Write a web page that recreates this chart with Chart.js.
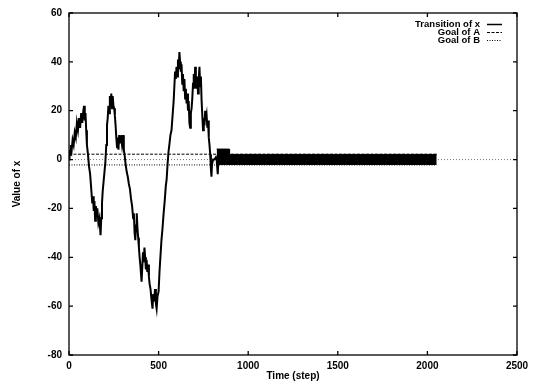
<!DOCTYPE html>
<html>
<head>
<meta charset="utf-8">
<script src="https://cdn.jsdelivr.net/npm/chart.js@4.4.0/dist/chart.umd.min.js"></script>
<style>
  body { margin: 0; background: #fff; }
  #wrap { width: 538px; height: 384px; }
</style>
</head>
<body>
<div id="wrap"><canvas id="chart" width="538" height="384"></canvas></div>
<script>
// transition of x (step, value)
const steps = [0, 3, 6, 10, 15, 20, 26, 32, 38, 44, 50, 56, 62, 68, 74, 80, 84, 88, 92, 96,
  100, 106, 112, 118, 124, 130, 134, 138, 142, 146, 150, 154, 158, 164, 170, 176, 180, 184, 188, 193,
  198, 203, 208, 212, 216, 220, 224, 228, 232, 236, 240, 244, 248, 252, 256, 260, 264, 268, 272, 276,
  280, 285, 290, 296, 302, 306, 310, 316, 322, 328, 334, 340, 346, 352, 358, 362, 366, 370, 374, 378,
  382, 386, 390, 394, 398, 402, 405, 409, 413, 417, 421, 425, 429, 433, 437, 441, 446, 450, 455, 460,
  466, 470, 475, 480, 485, 489, 494, 500, 505, 510, 516, 522, 528, 534, 540, 545, 550, 555, 560, 566,
  572, 578, 584, 588, 592, 596, 600, 604, 608, 612, 616, 620, 624, 628, 632, 636, 640, 644, 648, 652,
  656, 660, 664, 668, 672, 676, 680, 684, 688, 692, 696, 700, 704, 708, 712, 716, 720, 724, 728, 732,
  736, 740, 744, 748, 752, 756, 760, 764, 768, 772, 776, 780, 784, 788, 792, 795, 798, 804, 812, 820,
  824, 830, 834];
const xValues = [0, 4, 2, 6, 4, 8, 6, 11, 9, 15, 12, 17, 13, 19, 15, 20, 22, 16, 19, 12,
  6, 2, -3, -6, -12, -18, -15, -21, -17, -25, -19, -23, -20, -26, -24, -31, -24, -18, -13, -9,
  -5, -1, 6, 14, 17, 22, 19, 26, 22, 27, 21, 26, 22, 21, 18, 14, 9, 5, 9, 4,
  10, 7, 10, 6, 10, 4, 2, -2, -5, -7, -10, -12, -16, -19, -24, -22, -30, -33, -27, -22,
  -28, -32, -36, -40, -43, -47, -50, -44, -38, -42, -36, -40, -45, -41, -46, -43, -48, -51, -53, -57,
  -61, -55, -58, -53, -59, -61, -56, -54, -46, -40, -33, -28, -22, -17, -11, -8, -2, 3, 6, 10,
  12, 18, 24, 30, 36, 33, 38, 34, 41, 37, 44, 40, 36, 39, 31, 35, 28, 33, 25, 29,
  23, 27, 20, 24, 15, 13, 19, 21, 25, 31, 35, 29, 38, 32, 29, 34, 27, 33, 38, 30,
  34, 24, 18, 12, 17, 14, 20, 16, 18, 13, 16, 9, 6, 2, -4, -7, -2, 0, 0, 1,
  0, -6, 0];

// the dense oscillation after step ~824, upper and lower edge of the black band
const bandSteps = [824, 895, 896, 2052];
const bandTop = [4.3, 4.3, 2.1, 2.1];
const bandBottom = -2.2;

// goals, drawn over the run
const goalSteps = [0, 2052];
const goalA = [2.2, 2.2];
const goalB = [-2.2, -2.2];

// dotted zero axis
const zeroSteps = [0, 2500];
const zeroValues = [0, 0];

const xTicks = [0, 500, 1000, 1500, 2000, 2500];
const yTicks = [-80, -60, -40, -20, 0, 20, 40, 60];

function pts(xs, ys) {
    return xs.map((x, i) => ({ x: x, y: ys[i] }));
}

const FONT = '"Liberation Sans", Arial, sans-serif';

// frame with inward ticks on all four sides, gnuplot style
const framePlugin = {
    id: 'frame',
    afterDraw(chart) {
        const ctx = chart.ctx;
        const a = chart.chartArea;
        const xs = chart.scales.x, ys = chart.scales.y;
        ctx.save();
        ctx.strokeStyle = '#000';
        ctx.lineWidth = 1.3;
        ctx.strokeRect(a.left, a.top, a.right - a.left, a.bottom - a.top);
        ctx.beginPath();
        xTicks.forEach(v => {
            const px = xs.getPixelForValue(v);
            ctx.moveTo(px, a.bottom); ctx.lineTo(px, a.bottom - 4);
            ctx.moveTo(px, a.top); ctx.lineTo(px, a.top + 4);
        });
        yTicks.forEach(v => {
            const py = ys.getPixelForValue(v);
            ctx.moveTo(a.left, py); ctx.lineTo(a.left + 4, py);
            ctx.moveTo(a.right, py); ctx.lineTo(a.right - 4, py);
        });
        ctx.stroke();

        // legend, text right aligned then the line sample
        const rows = [
            ['Transition of x', [], 1.5],
            ['Goal of A', [3, 1.5], 1],
            ['Goal of B', [1, 1.5], 1]
        ];
        ctx.font = 'bold 9.5px ' + FONT;
        ctx.fillStyle = '#000';
        ctx.textAlign = 'right';
        ctx.textBaseline = 'middle';
        rows.forEach((r, i) => {
            const y = 24 + i * 8;
            ctx.fillText(r[0], 480, y);
            ctx.beginPath();
            ctx.setLineDash(r[1]);
            ctx.lineWidth = r[2];
            ctx.moveTo(487, y + 0.5);
            ctx.lineTo(502, y + 0.5);
            ctx.stroke();
        });
        ctx.restore();
    }
};

const config = {
    type: 'line',
    data: {
        datasets: [{
            label: 'Transition of x',
            data: pts(steps, xValues),
            borderColor: '#000',
            borderWidth: 2,
            pointRadius: 0,
            tension: 0,
            order: 0
        }, {
            label: 'band',
            data: pts(bandSteps, bandTop),
            borderColor: '#000',
            borderWidth: 1,
            backgroundColor: '#000',
            pointRadius: 0,
            fill: { target: { value: bandBottom } },
            order: 1
        }, {
            label: 'Goal of A',
            data: pts(goalSteps, goalA),
            borderColor: '#000',
            borderWidth: 1,
            borderDash: [3, 1.5],
            pointRadius: 0,
            order: 3
        }, {
            label: 'Goal of B',
            data: pts(goalSteps, goalB),
            borderColor: '#000',
            borderWidth: 1,
            borderDash: [1, 1.5],
            pointRadius: 0,
            order: 4
        }, {
            label: 'zero',
            data: pts(zeroSteps, zeroValues),
            borderColor: '#555',
            borderWidth: 0.8,
            borderDash: [1, 2],
            pointRadius: 0,
            order: 5
        }]
    },
    options: {
        responsive: false,
        animation: false,
        layout: { padding: { top: 10, right: 21, left: 0, bottom: 0 } },
        plugins: {
            legend: { display: false },
            tooltip: { enabled: false }
        },
        scales: {
            x: {
                type: 'linear',
                min: 0,
                max: 2500,
                afterFit: s => { s.height = 29; },
                afterBuildTicks: s => { s.ticks = xTicks.map(v => ({ value: v })); },
                grid: { display: false, drawTicks: false },
                border: { display: false },
                ticks: {
                    color: '#000',
                    padding: 5,
                    callback: v => String(v),
                    font: { family: FONT, size: 10, weight: 'bold' }
                },
                title: {
                    display: true,
                    text: 'Time (step)',
                    color: '#000',
                    padding: { top: 0, bottom: 2 },
                    font: { family: FONT, size: 10, weight: 'bold' }
                }
            },
            y: {
                min: -80,
                max: 60,
                afterFit: s => { s.width = 69; },
                afterBuildTicks: s => { s.ticks = yTicks.map(v => ({ value: v })); },
                grid: { display: false, drawTicks: false },
                border: { display: false },
                ticks: {
                    color: '#000',
                    padding: 7,
                    callback: v => String(v),
                    font: { family: FONT, size: 10, weight: 'bold' }
                },
                title: {
                    display: true,
                    text: 'Value of x',
                    color: '#000',
                    padding: { top: 11, bottom: 0 },
                    font: { family: FONT, size: 10, weight: 'bold' }
                }
            }
        }
    },
    plugins: [framePlugin]
};

window.addEventListener('load', e => {
    const ctx = document.getElementById('chart').getContext('2d');
    new Chart(ctx, config);
});
</script>
</body>
</html>
